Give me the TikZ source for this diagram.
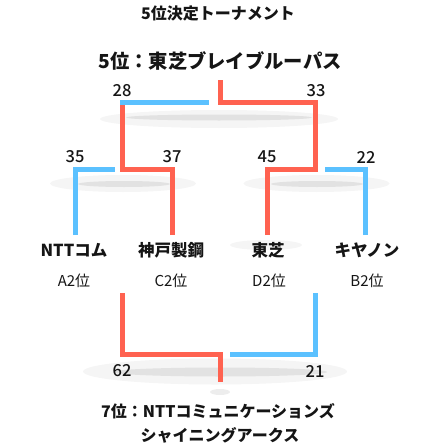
\documentclass[tikz,border=0pt]{standalone}
\usepackage{fontspec}
\setmainfont{Noto Sans CJK JP}
\newfontfamily\medfont{Noto Sans CJK JP}[UprightFont=* Medium]
\definecolor{winred}{HTML}{FF6250}
\definecolor{loseblue}{HTML}{5BC1FF}
\definecolor{shadeA}{HTML}{F5F5F5}
\definecolor{shadeB}{HTML}{E2E2E2}
\definecolor{shadeC}{HTML}{EDEDED}
\definecolor{ink}{HTML}{151515}
\begin{document}
\begin{tikzpicture}[x=1pt,y=-1pt,
  every node/.style={inner sep=0pt,text=ink},
  ttl/.style={font=\fontsize{16}{18}\selectfont\bfseries},
  big/.style={font=\fontsize{19.3}{22}\selectfont\bfseries},
  team/.style={font=\fontsize{16.5}{19}\selectfont\bfseries},
  seed/.style={font=\fontsize{15}{17}\selectfont},
  score/.style={font=\fontsize{16.5}{18}\selectfont\medfont},
  redline/.style={draw=winred,line width=5pt,line join=miter},
  blueline/.style={draw=loseblue,line width=5pt,line join=miter},
  shA/.style={fill=shadeA},
  shB/.style={fill=shadeB}]
\useasboundingbox (0,0) rectangle (440,444);
% soft shadows
\fill[shA] (219,119) ellipse (119 and 9);
\fill[shB] (219,117.5) ellipse (93 and 3);
\fill[shA] (123,183.5) ellipse (73 and 8.5);
\fill[shB] (124,184) ellipse (46 and 3);
\fill[shA] (316.5,183.5) ellipse (73 and 8.5);
\fill[shB] (317,184) ellipse (46 and 3);
\fill[shA] (266,245) ellipse (36 and 5);
\fill[shA] (215,371.5) ellipse (132 and 13);
\fill[shB] (220,372) ellipse (107 and 4.5);
\fill[shadeC] (220,392) ellipse (10 and 3);
% texts
\node[ttl] (title) at (218,13) {5位決定トーナメント};
\node[big] (fifth) at (220,61) {5位：東芝ブレイブルーパス};
\node[score] (s28) at (122,91) {28};
\node[score] (s33) at (316,91) {33};
\node[score] (s35) at (75,157) {35};
\node[score] (s37) at (172,157) {37};
\node[score] (s45) at (267,157) {45};
\node[score] (s22) at (366,157) {22};
\node[team] (ntt) at (74,250) {NTTコム};
\node[team] (kobe) at (171,250) {神戸製鋼};
\node[team] (toshiba) at (268,250) {東芝};
\node[team] (canon) at (367,250) {キヤノン};
\node[seed] (a2) at (74,281) {A2位};
\node[seed] (c2) at (171,281) {C2位};
\node[seed] (d2) at (269,281) {D2位};
\node[seed] (b2) at (367,281) {B2位};
\node[score] (s62) at (122,371) {62};
\node[score] (s21) at (315,371) {21};
\node[ttl] (seventh) at (218,411) {7位：NTTコミュニケーションズ};
\node[ttl] (seventhb) at (220,435) {シャイニングアークス};
% bracket coordinates
\coordinate (nttTop) at (75,235);
\coordinate (kobeTop) at (172.5,235);
\coordinate (toshibaTop) at (267,235);
\coordinate (canonTop) at (365.5,235);
\coordinate (lA) at (115,169);
\coordinate (lB) at (122.5,169);
\coordinate (lC) at (122.5,104);
\coordinate (rA) at (315.5,169);
\coordinate (rB) at (325,169);
\coordinate (tA) at (315.5,102.5);
\coordinate (tB) at (220.5,102.5);
\coordinate (tC) at (220.5,80);
\coordinate (tL) at (120,102.5);
\coordinate (tR) at (209,102.5);
\coordinate (kobeBot) at (122.5,293);
\coordinate (toshBot) at (315.5,293);
\coordinate (bA) at (122.5,354.5);
\coordinate (bB) at (220,354.5);
\coordinate (bC) at (220,382);
\coordinate (bD) at (315.5,354.5);
\coordinate (bE) at (230,354.5);
% connectors
\draw[blueline] (nttTop) |- (lA);
\draw[redline] (kobeTop) |- (lB) -- (lC);
\draw[redline] (toshibaTop) |- (rA) -- (tA) -- (tB) -- (tC);
\draw[blueline] (canonTop) |- (rB);
\draw[blueline] (tL) -- (tR);
\draw[redline] (kobeBot) -- (bA) -- (bB) -- (bC);
\draw[blueline] (toshBot) -- (bD) -- (bE);
\end{tikzpicture}
\end{document}
